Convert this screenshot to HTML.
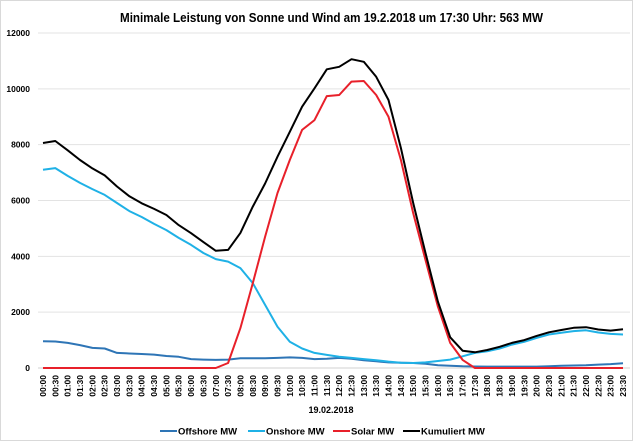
<!DOCTYPE html>
<html><head><meta charset="utf-8"><style>
body{margin:0;background:#fff;font-family:"Liberation Sans",Arial,sans-serif}
svg text{font-family:"Liberation Sans",Arial,sans-serif}
</style></head><body>
<svg id="chart" width="640" height="443" viewBox="0 0 640 443" xmlns="http://www.w3.org/2000/svg">
<rect x="0.5" y="0.5" width="632" height="440" fill="#fff" stroke="#d9d9d9"/>
<text x="120" y="22" textLength="423" lengthAdjust="spacingAndGlyphs" font-size="12.5" font-weight="bold" fill="#000">Minimale Leistung von Sonne und Wind am 19.2.2018 um 17:30 Uhr: 563 MW</text>
<g id="grid"></g><g id="ylabels"></g><g id="xlabels"></g><g id="series"></g>
<text x="331" y="413" text-anchor="middle" font-size="9" font-weight="bold" fill="#000">19.02.2018</text>
<g font-size="9.5" font-weight="bold" fill="#000">
<g><line x1="160" y1="431" x2="177" y2="431" stroke="#2e75b6" stroke-width="2"/><text x="178" y="434.5">Offshore MW</text></g>
<g><line x1="248" y1="431" x2="265" y2="431" stroke="#1fb1e6" stroke-width="2"/><text x="266" y="434.5">Onshore MW</text></g>
<g><line x1="333" y1="431" x2="350" y2="431" stroke="#e8202a" stroke-width="2"/><text x="351" y="434.5">Solar MW</text></g>
<g><line x1="403" y1="431" x2="420" y2="431" stroke="#000" stroke-width="2"/><text x="421" y="434.5">Kumuliert MW</text></g>
</g>
</svg>
<script>
const yTicks=[0,2000,4000,6000,8000,10000,12000];
const offshore=[960,950,900,820,720,700,540,520,500,480,430,400,320,300,290,300,350,350,350,360,380,360,320,330,360,330,280,240,200,190,180,150,100,80,60,55,50,50,50,50,50,60,80,90,100,120,140,170];
const onshore=[7100,7160,6880,6630,6410,6200,5910,5620,5410,5160,4940,4660,4410,4120,3900,3810,3580,3040,2260,1480,940,700,540,470,400,360,320,280,230,190,180,200,250,300,420,540,600,700,840,940,1080,1200,1260,1320,1350,1270,1220,1200];
const solar=[0,0,0,0,0,0,0,0,0,0,0,0,0,0,0,180,1430,3040,4700,6270,7450,8530,8880,9740,9780,10260,10280,9780,9000,7450,5550,3870,2200,900,290,0,0,0,0,0,0,0,0,0,0,0,0,0];
const kumuliert=[8060,8130,7800,7450,7150,6900,6500,6150,5900,5700,5480,5120,4830,4510,4200,4230,4840,5780,6610,7570,8460,9360,10020,10700,10790,11060,10970,10430,9600,7880,5910,4120,2380,1100,620,563,645,760,900,1000,1150,1280,1360,1440,1460,1380,1340,1390];
const times=[];for(let h=0;h<24;h++){for(const m of ["00","30"]){times.push(String(h).padStart(2,"0")+":"+m);}}
const NS="http://www.w3.org/2000/svg";
const X0=43,DX=12.34,Y0=368,YTOP=33,YMAX=12000;
function xs(i){return X0+i*DX;}
function ys(v){return Y0-(v/YMAX)*(Y0-YTOP);}
const grid=document.getElementById('grid'),yl=document.getElementById('ylabels'),xl=document.getElementById('xlabels'),sg=document.getElementById('series');
yTicks.forEach(t=>{
 const l=document.createElementNS(NS,'line');
 
 
 l.setAttribute('x1',38);l.setAttribute('x2',630);l.setAttribute('y1',ys(t));l.setAttribute('y2',ys(t));
 l.setAttribute('stroke',t===0?'#d0d0d0':'#e3e3e3');l.setAttribute('stroke-width',1);
 grid.appendChild(l);
 const tx=document.createElementNS(NS,'text');
 
 
 tx.setAttribute('x',30);tx.setAttribute('y',ys(t)+3);tx.setAttribute('text-anchor','end');
 tx.setAttribute('font-size','8.5');tx.setAttribute('font-weight','bold');tx.textContent=t;
 yl.appendChild(tx);
});
times.forEach((t,i)=>{
 const tx=document.createElementNS(NS,'text');
 
 
 const x=xs(i)+3,y=375;
 tx.setAttribute('x',x);tx.setAttribute('y',y);tx.setAttribute('text-anchor','end');
 tx.setAttribute('transform','rotate(-90 '+x+' '+y+')');
 tx.setAttribute('font-size','8.5');tx.setAttribute('font-weight','bold');tx.textContent=t;
 xl.appendChild(tx);
});
function line(data,color,name){
 const p=document.createElementNS(NS,'polyline');
 
 
 p.setAttribute('points',data.map((v,i)=>xs(i).toFixed(1)+','+ys(v).toFixed(1)).join(' '));
 p.setAttribute('fill','none');p.setAttribute('stroke',color);p.setAttribute('stroke-width',2);
 p.setAttribute('stroke-linejoin','round');
 sg.appendChild(p);
}
line(offshore,'#2e75b6','offshore-line');
line(onshore,'#1fb1e6','onshore-line');
line(solar,'#e8202a','solar-line');
line(kumuliert,'#000','kumuliert-line');
</script>
</body></html>
